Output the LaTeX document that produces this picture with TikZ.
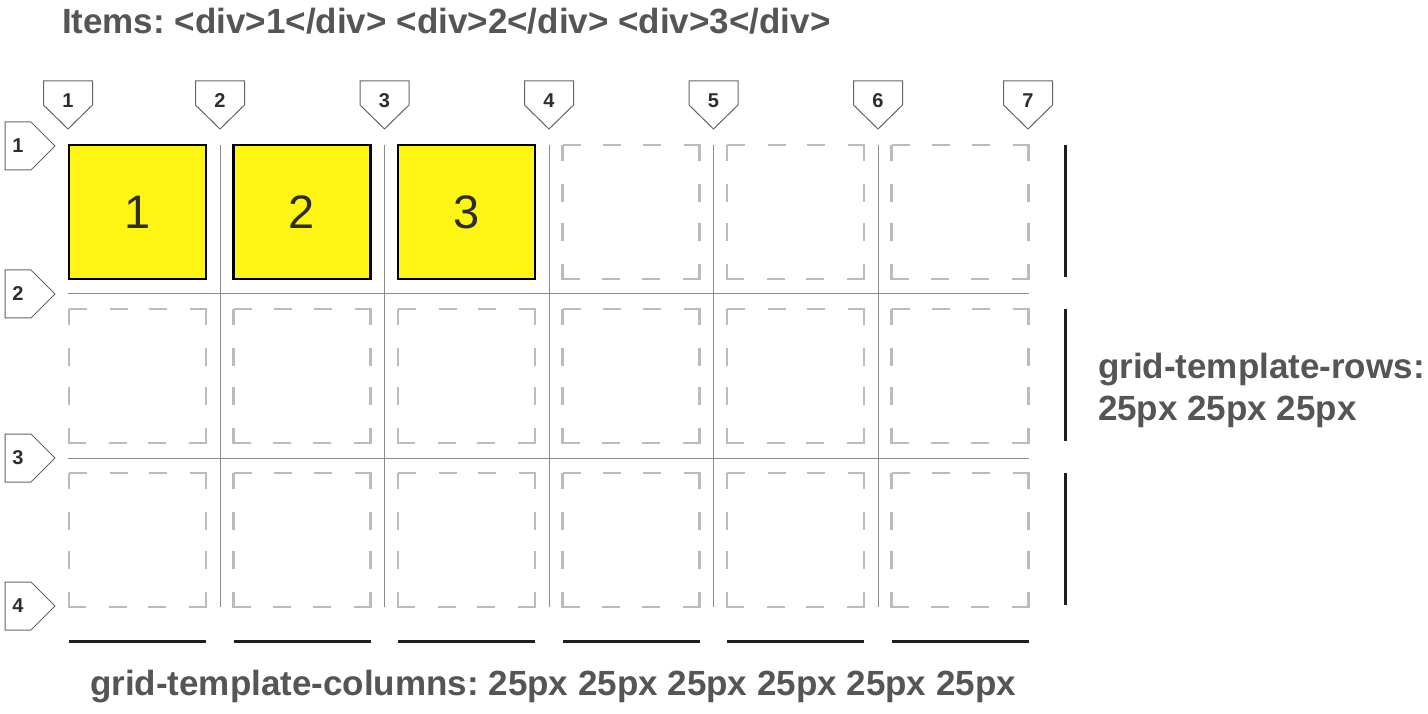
\documentclass[tikz,border=0pt]{standalone}
\usepackage{fontspec}
\setmainfont{Liberation Sans}
\usepackage{tikz}
\usetikzlibrary{calc,math}
\definecolor{cellyellow}{RGB}{255,245,20}
\definecolor{labelgray}{RGB}{85,85,85}
\definecolor{linegray}{RGB}{140,140,140}
\definecolor{dashgray}{RGB}{187,187,187}
\definecolor{markgray}{RGB}{100,100,100}
\definecolor{marktext}{RGB}{45,45,45}
\definecolor{barblack}{RGB}{30,30,30}
\frenchspacing

\begin{document}
\begin{tikzpicture}[x=1pt,y=-1pt,
    every node/.style={inner sep=0pt,outer sep=0pt},
    note/.style={font=\fontsize{35}{42}\selectfont\bfseries,text=labelgray},
    marknum/.style={font=\fontsize{20}{22}\selectfont\bfseries,text=marktext},
    marker/.style={draw=markgray,fill=white,line width=1pt},
    gridline/.style={draw=linegray,line width=1pt},
    itembox/.style={draw=black,fill=cellyellow,line width=2.5pt,
        minimum width=137pt,minimum height=134pt,anchor=north west,
        font=\fontsize{47}{50}\selectfont,text=marktext},
    emptybox/.style={draw=dashgray,line width=2.2pt,
        dash pattern=on 32pt off 22.75pt on 18pt off 21.5pt on 18pt off 22.75pt,dash phase=16pt},
    trackbar/.style={draw=barblack,line width=3pt}]
        \tikzmath{
            let \gx = 164.5;
            let \gy = 164;
        }
        \useasboundingbox (0,0) rectangle (1428,714);

        % grid gaps
        \foreach \k in {0,...,4}
            \draw[gridline] (220+\gx*\k,145) -- (220+\gx*\k,607);
        \foreach \y in {294,458}
            \draw[gridline] (68,\y) -- (1029,\y);

        % empty cells
        \foreach \c in {0,...,5}{
            \foreach \r in {0,...,2}{
                \pgfmathtruncatemacro\filled{\r==0 && \c<3}
                \ifnum\filled=0
                    \draw[emptybox] (69+\gx*\c,145+\gy*\r) rectangle ++(137,134);
                \fi
            }
        }
        % the three items
        \foreach \c in {1,2,3}
            \node[itembox,text depth=-3pt] (item\c) at (69+\gx*\c-\gx,145) {\c};

        % line numbers
        \foreach \x [count=\k] in {68,220,384.5,549,713.5,878,1028}{
            \draw[marker] (\x-24.5,81) -- (\x+24.5,81) -- (\x+24.5,105) -- (\x,129) -- (\x-24.5,105) -- cycle;
            \node[marknum] (col\k) at (\x,101) {\k};
        }
        \foreach \y [count=\k] in {146,294,458,606}{
            \draw[marker] (5,\y-24) -- (31,\y-24) -- (55,\y) -- (31,\y+24) -- (5,\y+24) -- cycle;
            \node[marknum] (row\k) at (18,\y) {\k};
        }

        % track sizes
        \foreach \r in {0,1,2}
            \draw[trackbar] (1065,145+\gy*\r) -- (1065,277+\gy*\r);
        \foreach \c in {0,...,5}
            \draw[trackbar] (69+\gx*\c,641) -- (206+\gx*\c,641);

        \node[note,anchor=base west] (title) at (62,34) {Items: <div>1</div> <div>2</div> <div>3</div>};
        \node[note,anchor=base west] (rowsnote) at (1098,378) {grid-template-rows:};
        \node[note,anchor=base west] (rowsvals) at (1098,420) {25px 25px 25px};
        \node[note,anchor=base] (colsnote) at (553,695) {grid-template-columns: 25px 25px 25px 25px 25px 25px};
    \end{tikzpicture}
\end{document}
